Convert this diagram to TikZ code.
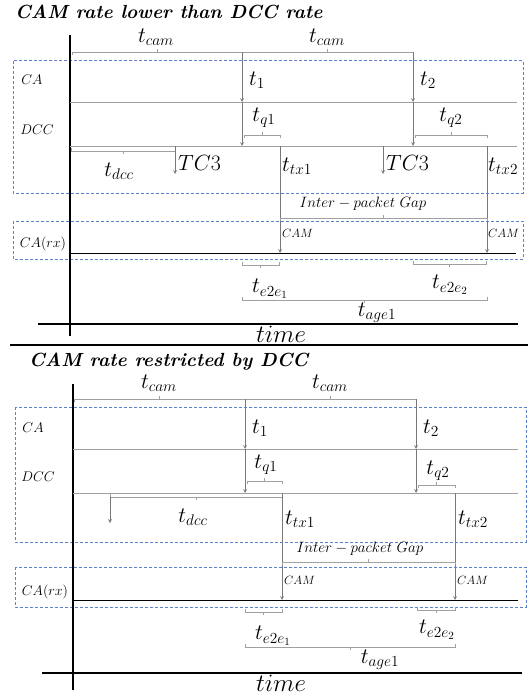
\RequirePackage{fix-cm}
\documentclass[tikz,border=0pt]{standalone}
\usepackage{amsmath}
\usetikzlibrary{calc, positioning}
\definecolor{linegray}{RGB}{160,160,160}
\definecolor{arrgray}{RGB}{120,120,120}
\definecolor{boxblue}{RGB}{90,130,205}
\tikzset{
	lane/.style={draw=linegray, line width=0.8pt},
	gap/.style={draw=linegray, line width=0.7pt},
	trig/.style={draw=arrgray, line width=0.7pt, ->},
	axis/.style={draw=black, line width=2.2pt},
	layer/.style={draw=boxblue, line width=1pt, dash pattern=on 3pt off 2pt},
	tlabel/.style={inner sep=0pt, font=\fontsize{22}{26}\selectfont},
	llabel/.style={inner sep=0pt, font=\fontsize{14}{17}\selectfont},
	clabel/.style={inner sep=0pt, font=\fontsize{12}{14}\selectfont, anchor=west},
	title/.style={inner sep=0pt, anchor=base west, font=\fontsize{19}{23}\selectfont\bfseries\itshape},
}
% bracket: from #1 to #2, end ticks #3 down, middle tick up
\newcommand{\brak}[3]{%
	\draw[gap] ($(#1)+(0,#3)$) -- (#1) -- (#2) -- ($(#2)+(0,#3)$);
	\draw[gap] ($(#1)!0.5!(#2)$) -- ++(0,-#3);}

\begin{document}
\begin{tikzpicture}[x=1pt, y=-1pt, >=stealth]
	\useasboundingbox (0,0) rectangle (532,698);

	%%%% panel 1: CAM rate lower than DCC rate
	\node[title] (title1) at (15,19) {CAM rate lower than DCC rate};

	\draw[layer] (13,61) rectangle (523,193);
	\draw[layer] (13,221) rectangle (523,259);

	\coordinate (ax1top) at (70,35);
	\coordinate (ax1bot) at (70,336);
	\coordinate (tm1l) at (38,324);
	\coordinate (tm1r) at (518,324);
	\draw[axis] (ax1top) -- (ax1bot);
	\draw[axis] (tm1l) -- (tm1r);
	\node[tlabel, anchor=north, font=\fontsize{25}{30}\selectfont] (time1) at (281,326) {$time$};

	% lanes
	\draw[lane] (70,102) coordinate (ca1l) -- (517,102) coordinate (ca1r);
	\draw[lane] (70,146) coordinate (dcc1l) -- (517,146) coordinate (dcc1r);
	\draw[black, line width=0.8pt] (70,253) coordinate (rx1l) -- (516,253) coordinate (rx1r);
	\node[llabel] (ca1) at (32,80) {$CA$};
	\node[llabel] (dcc1) at (37,130) {$DCC$};
	\node[llabel] (rx1) at (43,244) {$CA(rx)$};

	% generation events
	\coordinate (g1a) at (242,52);
	\coordinate (g1b) at (242,102);
	\coordinate (g1c) at (242,146);
	\coordinate (g2a) at (413,52);
	\coordinate (g2b) at (413,102);
	\coordinate (g2c) at (413,146);
	\brak{72,52}{g1a}{3}
	\brak{g1a}{g2a}{3}
	\node[tlabel] (tcam1a) at (156,37) {$t_{cam}$};
	\node[tlabel] (tcam1b) at (327,37) {$t_{cam}$};
	\draw[trig] (g1a) -- (g1b);
	\draw[trig] (g1b) -- (g1c);
	\draw[trig] (g2a) -- (g2b);
	\draw[trig] (g2b) -- (g2c);
	\node[tlabel] (t1a) at (257,80) {$t_1$};
	\node[tlabel] (t2a) at (428,80) {$t_2$};

	% queueing
	\brak{244,135}{280,135}{3}
	\brak{415,135}{487,135}{3}
	\node[tlabel] (tq1a) at (264,118) {$t_{q1}$};
	\node[tlabel] (tq2a) at (451,118) {$t_{q2}$};

	% dcc gating
	\brak{71,151}{175,151}{-3}
	\node[tlabel] (tdcc1) at (119,171) {$t_{dcc}$};
	\coordinate (tc1a) at (175,146);
	\coordinate (tc1b) at (175,174);
	\coordinate (tc2a) at (383,146);
	\coordinate (tc2b) at (383,174);
	\draw[trig] (tc1a) -- (tc1b);
	\draw[trig] (tc2a) -- (tc2b);
	\node[tlabel, anchor=west] (tc3a) at (178,163) {$TC3$};
	\node[tlabel, anchor=west] (tc3b) at (386,163) {$TC3$};

	% transmission
	\coordinate (tx1a) at (280,146);
	\coordinate (tx1b) at (280,253);
	\coordinate (tx2a) at (487,146);
	\coordinate (tx2b) at (487,253);
	\draw[trig] (tx1a) -- (tx1b);
	\draw[trig] (tx2a) -- (tx2b);
	\node[tlabel, anchor=west] (ttx1a) at (282,166) {$t_{tx1}$};
	\node[tlabel, anchor=west] (ttx2a) at (488,166) {$t_{tx2}$};
	\brak{280,218}{487,218}{3}
	\node[llabel, font=\fontsize{15}{18}\selectfont] (ipg1) at (363,204) {$Inter - packet\ Gap$};
	\node[clabel] (cam1a) at (282,233) {$CAM$};
	\node[clabel] (cam1b) at (488,233) {$CAM$};

	% end to end and age
	\brak{242,265}{279,265}{-3}
	\brak{413,264}{486,264}{-3}
	\brak{242,300}{487,300}{-3}
	\node[tlabel] (te1a) at (270,289) {$t_{e2e_1}$};
	\node[tlabel] (te2a) at (450,285) {$t_{e2e_2}$};
	\node[tlabel] (tage1) at (377,313) {$t_{age1}$};

	%%%% panel 2: CAM rate restricted by DCC
	\draw[axis] (10,345) coordinate (sepl) -- (528,345) coordinate (sepr);
	\node[title] (title2) at (29,366) {CAM rate restricted by DCC};

	\draw[layer] (15,407) rectangle (526,542);
	\draw[layer] (15,567) rectangle (526,607);

	\coordinate (ax2top) at (73,384);
	\coordinate (ax2bot) at (73,690);
	\coordinate (tm2l) at (42,673);
	\coordinate (tm2r) at (522,673);
	\draw[axis] (ax2top) -- (ax2bot);
	\draw[axis] (tm2l) -- (tm2r);
	\node[tlabel, anchor=north, font=\fontsize{25}{30}\selectfont] (time2) at (281,675) {$time$};

	% lanes
	\draw[lane] (73,449) coordinate (ca2l) -- (518,449) coordinate (ca2r);
	\draw[lane] (73,493) coordinate (dcc2l) -- (518,493) coordinate (dcc2r);
	\draw[black, line width=0.8pt] (73,600) coordinate (rx2l) -- (518,600) coordinate (rx2r);
	\node[llabel] (ca2) at (33,428) {$CA$};
	\node[llabel] (dcc2) at (38,477) {$DCC$};
	\node[llabel] (rx2) at (45,592) {$CA(rx)$};

	% generation events
	\coordinate (h1a) at (245,399);
	\coordinate (h1b) at (245,449);
	\coordinate (h1c) at (245,493);
	\coordinate (h2a) at (416,399);
	\coordinate (h2b) at (416,449);
	\coordinate (h2c) at (416,493);
	\brak{74,399}{h1a}{3}
	\brak{h1a}{h2a}{3}
	\node[tlabel] (tcam2a) at (159,383) {$t_{cam}$};
	\node[tlabel] (tcam2b) at (330,383) {$t_{cam}$};
	\draw[trig] (h1a) -- (h1b);
	\draw[trig] (h1b) -- (h1c);
	\draw[trig] (h2a) -- (h2b);
	\draw[trig] (h2b) -- (h2c);
	\node[tlabel] (t1b) at (260,428) {$t_1$};
	\node[tlabel] (t2b) at (431,428) {$t_2$};

	% queueing
	\brak{247,481}{282,481}{3}
	\brak{418,485}{455,485}{3}
	\node[tlabel] (tq1b) at (266,465) {$t_{q1}$};
	\node[tlabel] (tq2b) at (438,471) {$t_{q2}$};

	% dcc gating
	\coordinate (dg1a) at (110,497);
	\coordinate (dg1b) at (110,523);
	\brak{dg1a}{282,497}{-3}
	\draw[trig] (dg1a) -- (dg1b);
	\node[tlabel] (tdcc2) at (193,517) {$t_{dcc}$};

	% transmission
	\coordinate (ux1a) at (282,493);
	\coordinate (ux1b) at (282,600);
	\coordinate (ux2a) at (455,493);
	\coordinate (ux2b) at (455,600);
	\draw[trig] (ux1a) -- (ux1b);
	\draw[trig] (ux2a) -- (ux2b);
	\node[tlabel, anchor=west] (ttx1b) at (285,519) {$t_{tx1}$};
	\node[tlabel, anchor=west] (ttx2b) at (458,519) {$t_{tx2}$};
	\brak{282,562}{455,562}{3}
	\node[llabel, font=\fontsize{15}{18}\selectfont] (ipg2) at (360,549) {$Inter - packet\ Gap$};
	\node[clabel] (cam2a) at (284,580) {$CAM$};
	\node[clabel] (cam2b) at (457,580) {$CAM$};

	% end to end and age
	\brak{245,612}{282,612}{-3}
	\brak{417,610}{455,610}{-3}
	\brak{245,647}{455,647}{-3}
	\node[tlabel] (te1b) at (273,636) {$t_{e2e_1}$};
	\node[tlabel] (te2b) at (437,630) {$t_{e2e_2}$};
	\node[tlabel] (tage2) at (380,660) {$t_{age1}$};
\end{tikzpicture}
\end{document}
